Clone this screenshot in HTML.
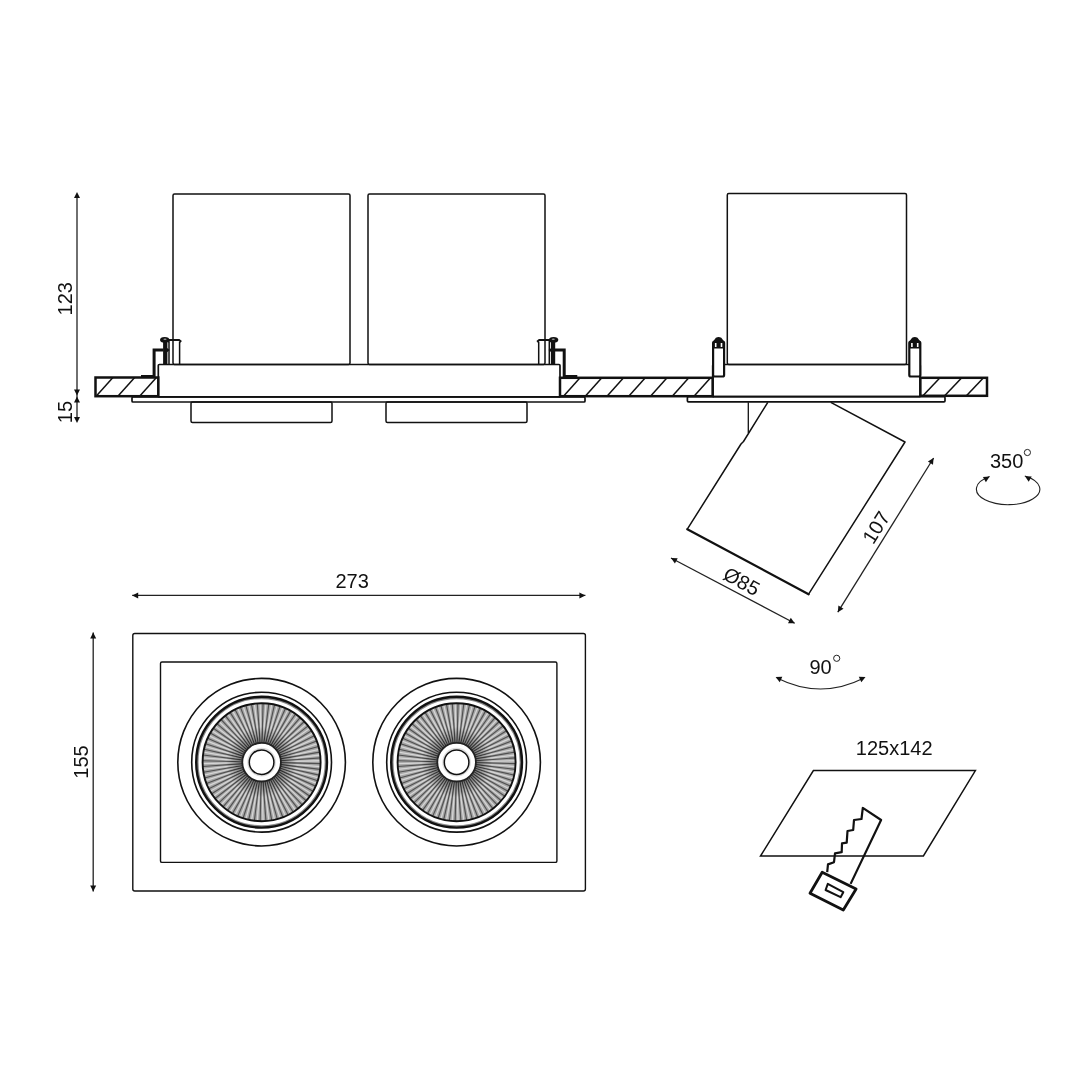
<!DOCTYPE html>
<html><head><meta charset="utf-8"><style>
html,body{margin:0;padding:0;background:#fff;}
svg{display:block;will-change:transform;}
.t{font-family:"Liberation Sans",sans-serif;font-size:20px;fill:#111;}
</style></head><body>
<svg width="1080" height="1080" viewBox="0 0 1080 1080">
<rect width="1080" height="1080" fill="#fff"/>
<defs><radialGradient id="rg" gradientUnits="objectBoundingBox" cx="0.5" cy="0.5" r="0.5"><stop offset="0.33" stop-color="#000" stop-opacity="0.5"/><stop offset="0.6" stop-color="#000" stop-opacity="0.0"/><stop offset="1" stop-color="#000" stop-opacity="0"/></radialGradient></defs>
<line x1="77" y1="194" x2="77" y2="421" stroke="#222" stroke-width="1.3"/>
<path d="M77.00,192.00 L80.00,198.00 L74.00,198.00Z" fill="#111"/>
<path d="M77.00,395.50 L74.00,389.50 L80.00,389.50Z" fill="#111"/>
<path d="M77.00,396.50 L80.00,402.50 L74.00,402.50Z" fill="#111"/>
<path d="M77.00,423.00 L74.00,417.00 L80.00,417.00Z" fill="#111"/>
<text x="0" y="0" transform="translate(72.3,298.8) rotate(-90)" class="t" text-anchor="middle">123</text>
<text x="0" y="0" transform="translate(72.3,412) rotate(-90)" class="t" text-anchor="middle">15</text>
<rect x="173" y="194" width="177" height="170.5" rx="1.5" fill="none" stroke="#111" stroke-width="1.5"/>
<rect x="368" y="194" width="177" height="170.5" rx="1.5" fill="none" stroke="#111" stroke-width="1.5"/>
<rect x="727.3" y="193.5" width="179.20000000000005" height="171.0" rx="1.5" fill="none" stroke="#111" stroke-width="1.5"/>
<rect x="158.3" y="364.5" width="401.7" height="32.39999999999998" rx="1" fill="none" stroke="#111" stroke-width="1.7"/>
<rect x="132" y="396.9" width="453" height="5.100000000000023" rx="1" fill="none" stroke="#111" stroke-width="1.7"/>
<rect x="191" y="402" width="141" height="20.5" rx="1.5" fill="none" stroke="#111" stroke-width="1.5"/>
<rect x="386" y="402" width="141" height="20.5" rx="1.5" fill="none" stroke="#111" stroke-width="1.5"/>
<rect x="712.7" y="364.5" width="207.5999999999999" height="32.19999999999999" rx="1" fill="none" stroke="#111" stroke-width="1.7"/>
<rect x="687.4" y="396.7" width="257.6" height="5.100000000000023" rx="1" fill="none" stroke="#111" stroke-width="1.7"/>
<clipPath id="h1"><rect x="95.5" y="377.5" width="62.80000000000001" height="18.69999999999999"/></clipPath>
<g clip-path="url(#h1)"><line x1="52.60" y1="396.2" x2="69.43" y2="377.5" stroke="#111" stroke-width="1.5"/><line x1="74.35" y1="396.2" x2="91.18" y2="377.5" stroke="#111" stroke-width="1.5"/><line x1="96.10" y1="396.2" x2="112.93" y2="377.5" stroke="#111" stroke-width="1.5"/><line x1="117.85" y1="396.2" x2="134.68" y2="377.5" stroke="#111" stroke-width="1.5"/><line x1="139.60" y1="396.2" x2="156.43" y2="377.5" stroke="#111" stroke-width="1.5"/><line x1="161.35" y1="396.2" x2="178.18" y2="377.5" stroke="#111" stroke-width="1.5"/><line x1="183.10" y1="396.2" x2="199.93" y2="377.5" stroke="#111" stroke-width="1.5"/></g>
<rect x="95.5" y="377.5" width="62.80000000000001" height="18.69999999999999" fill="none" stroke="#111" stroke-width="2.5"/>
<clipPath id="h2"><rect x="560" y="377.8" width="152.70000000000005" height="18.399999999999977"/></clipPath>
<g clip-path="url(#h2)"><line x1="520.00" y1="396.2" x2="536.56" y2="377.8" stroke="#111" stroke-width="1.5"/><line x1="541.75" y1="396.2" x2="558.31" y2="377.8" stroke="#111" stroke-width="1.5"/><line x1="563.50" y1="396.2" x2="580.06" y2="377.8" stroke="#111" stroke-width="1.5"/><line x1="585.25" y1="396.2" x2="601.81" y2="377.8" stroke="#111" stroke-width="1.5"/><line x1="607.00" y1="396.2" x2="623.56" y2="377.8" stroke="#111" stroke-width="1.5"/><line x1="628.75" y1="396.2" x2="645.31" y2="377.8" stroke="#111" stroke-width="1.5"/><line x1="650.50" y1="396.2" x2="667.06" y2="377.8" stroke="#111" stroke-width="1.5"/><line x1="672.25" y1="396.2" x2="688.81" y2="377.8" stroke="#111" stroke-width="1.5"/><line x1="694.00" y1="396.2" x2="710.56" y2="377.8" stroke="#111" stroke-width="1.5"/><line x1="715.75" y1="396.2" x2="732.31" y2="377.8" stroke="#111" stroke-width="1.5"/><line x1="737.50" y1="396.2" x2="754.06" y2="377.8" stroke="#111" stroke-width="1.5"/></g>
<rect x="560" y="377.8" width="152.70000000000005" height="18.399999999999977" fill="none" stroke="#111" stroke-width="2.5"/>
<clipPath id="h3"><rect x="920.3" y="377.8" width="66.70000000000005" height="18.0"/></clipPath>
<g clip-path="url(#h3)"><line x1="879.40" y1="395.8" x2="896.50" y2="377.8" stroke="#111" stroke-width="1.5"/><line x1="901.15" y1="395.8" x2="918.25" y2="377.8" stroke="#111" stroke-width="1.5"/><line x1="922.90" y1="395.8" x2="940.00" y2="377.8" stroke="#111" stroke-width="1.5"/><line x1="944.65" y1="395.8" x2="961.75" y2="377.8" stroke="#111" stroke-width="1.5"/><line x1="966.40" y1="395.8" x2="983.50" y2="377.8" stroke="#111" stroke-width="1.5"/><line x1="988.15" y1="395.8" x2="1005.25" y2="377.8" stroke="#111" stroke-width="1.5"/><line x1="1009.90" y1="395.8" x2="1027.00" y2="377.8" stroke="#111" stroke-width="1.5"/></g>
<rect x="920.3" y="377.8" width="66.70000000000005" height="18.0" fill="none" stroke="#111" stroke-width="2.5"/>
<path d="M141,376.6 L154.1,376.6 L154.1,350 L163.5,350" fill="none" stroke="#111" stroke-width="3"/><path d="M167,348 L169.8,350 L167,352.2Z" fill="#111"/><rect x="163.1" y="341" width="4.3" height="23.5" fill="#111"/><ellipse cx="164.7" cy="339.8" rx="4.7" ry="2.9" fill="#111"/><ellipse cx="165" cy="339.2" rx="1.6" ry="0.8" fill="#999"/><path d="M169,364 L169,342 M179.6,342 L179.6,364" fill="none" stroke="#111" stroke-width="1.5"/><path d="M167.8,342 L169.6,340 L179,340 L181.2,341.8" fill="none" stroke="#111" stroke-width="2.2"/>
<g transform="translate(718.3,0) scale(-1,1)"><path d="M141,376.6 L154.1,376.6 L154.1,350 L163.5,350" fill="none" stroke="#111" stroke-width="3"/><path d="M167,348 L169.8,350 L167,352.2Z" fill="#111"/><rect x="163.1" y="341" width="4.3" height="23.5" fill="#111"/><ellipse cx="164.7" cy="339.8" rx="4.7" ry="2.9" fill="#111"/><ellipse cx="165" cy="339.2" rx="1.6" ry="0.8" fill="#999"/><path d="M169,364 L169,342 M179.6,342 L179.6,364" fill="none" stroke="#111" stroke-width="1.5"/><path d="M167.8,342 L169.6,340 L179,340 L181.2,341.8" fill="none" stroke="#111" stroke-width="2.2"/></g>
<rect x="713.1" y="341.5" width="11.0" height="35" rx="1.5" fill="#fff" stroke="#111" stroke-width="2.2"/>
<path d="M713.1,341.5 L715.9,337.8 Q718.6,336.4 721.3000000000001,337.8 L724.1,341.5 L724.1,348.5 L713.1,348.5Z" fill="#111"/>
<rect x="714.9" y="343" width="1.6" height="4" fill="#fff"/>
<rect x="720.7" y="343" width="1.6" height="4" fill="#fff"/>
<rect x="909.3" y="341.5" width="11.0" height="35" rx="1.5" fill="#fff" stroke="#111" stroke-width="2.2"/>
<path d="M909.3,341.5 L912.0999999999999,337.8 Q914.8,336.4 917.5,337.8 L920.3,341.5 L920.3,348.5 L909.3,348.5Z" fill="#111"/>
<rect x="911.0999999999999" y="343" width="1.6" height="4" fill="#fff"/>
<rect x="916.9" y="343" width="1.6" height="4" fill="#fff"/>
<path d="M767.8,402.3 L743.5,441.5 L741,444 L687.3,529.2 M808.6,594.2 L905,442 L830.8,402.3" fill="none" stroke="#111" stroke-width="1.5" stroke-linejoin="round"/><path d="M687.3,529.2 L808.6,594.2" stroke="#111" stroke-width="2.3" stroke-linecap="round" stroke-linejoin="round"/>
<path d="M748.3,402.3 L748.3,433" fill="none" stroke="#111" stroke-width="1.3"/>
<line x1="671" y1="558" x2="794.7" y2="623.3" stroke="#222" stroke-width="1.3"/>
<path d="M794.70,623.30 L787.99,623.15 L790.79,617.85Z" fill="#111"/>
<path d="M671.00,558.00 L677.71,558.15 L674.91,563.45Z" fill="#111"/>
<line x1="837.8" y1="612.2" x2="933.6" y2="458" stroke="#222" stroke-width="1.3"/>
<path d="M933.60,458.00 L932.98,464.68 L927.89,461.51Z" fill="#111"/>
<path d="M837.80,612.20 L838.42,605.52 L843.51,608.69Z" fill="#111"/>
<text transform="translate(738.3,587.5) rotate(28.4)" class="t" text-anchor="middle">Ø85</text>
<text transform="translate(882,531) rotate(-58.2)" class="t" text-anchor="middle">107</text>
<text x="990" y="467.8" class="t">350</text>
<circle cx="1027.4" cy="452.5" r="3.1" fill="none" stroke="#222" stroke-width="1"/>
<path d="M989.6,476.6 A31.7,15.5 0 1 0 1024.8,476" fill="none" stroke="#222" stroke-width="1.1"/>
<path d="M989.60,476.60 L985.90,482.20 L982.90,477.00Z" fill="#111"/>
<path d="M1025.00,476.20 L1031.70,476.60 L1028.70,481.80Z" fill="#111"/>
<text x="809.5" y="674" class="t">90</text>
<circle cx="836.7" cy="658.3" r="3.1" fill="none" stroke="#222" stroke-width="1"/>
<path d="M777,678 Q820.5,700 864,678" fill="none" stroke="#222" stroke-width="1.1"/>
<path d="M775.60,677.00 L782.31,676.82 L779.77,682.25Z" fill="#111"/>
<path d="M865.50,677.00 L861.33,682.25 L858.79,676.82Z" fill="#111"/>
<line x1="132.2" y1="595.4" x2="585.4" y2="595.4" stroke="#222" stroke-width="1.3"/>
<path d="M585.40,595.40 L579.40,598.40 L579.40,592.40Z" fill="#111"/>
<path d="M132.20,595.40 L138.20,592.40 L138.20,598.40Z" fill="#111"/>
<text x="352.2" y="587.8" class="t" text-anchor="middle">273</text>
<line x1="93.2" y1="632.5" x2="93.2" y2="891.4" stroke="#222" stroke-width="1.3"/>
<path d="M93.20,891.40 L90.20,885.40 L96.20,885.40Z" fill="#111"/>
<path d="M93.20,632.50 L96.20,638.50 L90.20,638.50Z" fill="#111"/>
<text transform="translate(87.6,762) rotate(-90)" class="t" text-anchor="middle">155</text>
<rect x="132.8" y="633.5" width="452.59999999999997" height="257.5" rx="2" fill="none" stroke="#111" stroke-width="1.4"/>
<rect x="160.5" y="662" width="396.4" height="200.39999999999998" rx="1.5" fill="none" stroke="#111" stroke-width="1.4"/>
<circle cx="261.6" cy="762.2" r="83.8" fill="none" stroke="#111" stroke-width="1.6"/>
<circle cx="261.6" cy="762.2" r="69.9" fill="none" stroke="#111" stroke-width="1.6"/>
<circle cx="261.6" cy="762.2" r="64.3" fill="none" stroke="#888" stroke-width="2.5"/>
<circle cx="261.6" cy="762.2" r="65.4" fill="none" stroke="#111" stroke-width="2.4"/>
<circle cx="261.6" cy="762.2" r="39.25" fill="none" stroke="#a6a6a6" stroke-width="39.5"/>
<path d="M281.09,762.68 L320.58,763.65" stroke="#505050" stroke-width="1.15"/><path d="M281.05,763.63 L320.44,766.54" stroke="#d6d6d6" stroke-width="1.3"/><path d="M280.95,764.59 L320.16,769.42" stroke="#505050" stroke-width="1.15"/><path d="M280.81,765.53 L319.73,772.29" stroke="#d6d6d6" stroke-width="1.3"/><path d="M280.63,766.47 L319.17,775.13" stroke="#505050" stroke-width="1.15"/><path d="M280.39,767.40 L318.46,777.94" stroke="#d6d6d6" stroke-width="1.3"/><path d="M280.12,768.32 L317.62,780.71" stroke="#505050" stroke-width="1.15"/><path d="M279.79,769.22 L316.65,783.43" stroke="#d6d6d6" stroke-width="1.3"/><path d="M279.43,770.10 L315.54,786.11" stroke="#505050" stroke-width="1.15"/><path d="M279.02,770.97 L314.30,788.73" stroke="#d6d6d6" stroke-width="1.3"/><path d="M278.57,771.81 L312.94,791.28" stroke="#505050" stroke-width="1.15"/><path d="M278.07,772.63 L311.45,793.76" stroke="#d6d6d6" stroke-width="1.3"/><path d="M277.54,773.43 L309.84,796.17" stroke="#505050" stroke-width="1.15"/><path d="M276.97,774.20 L308.11,798.50" stroke="#d6d6d6" stroke-width="1.3"/><path d="M276.37,774.94 L306.28,800.74" stroke="#505050" stroke-width="1.15"/><path d="M275.72,775.65 L304.33,802.88" stroke="#d6d6d6" stroke-width="1.3"/><path d="M275.05,776.32 L302.28,804.93" stroke="#505050" stroke-width="1.15"/><path d="M274.34,776.97 L300.14,806.88" stroke="#d6d6d6" stroke-width="1.3"/><path d="M273.60,777.57 L297.90,808.71" stroke="#505050" stroke-width="1.15"/><path d="M272.83,778.14 L295.57,810.44" stroke="#d6d6d6" stroke-width="1.3"/><path d="M272.03,778.67 L293.16,812.05" stroke="#505050" stroke-width="1.15"/><path d="M271.21,779.17 L290.68,813.54" stroke="#d6d6d6" stroke-width="1.3"/><path d="M270.37,779.62 L288.13,814.90" stroke="#505050" stroke-width="1.15"/><path d="M269.50,780.03 L285.51,816.14" stroke="#d6d6d6" stroke-width="1.3"/><path d="M268.62,780.39 L282.83,817.25" stroke="#505050" stroke-width="1.15"/><path d="M267.72,780.72 L280.11,818.22" stroke="#d6d6d6" stroke-width="1.3"/><path d="M266.80,780.99 L277.34,819.06" stroke="#505050" stroke-width="1.15"/><path d="M265.87,781.23 L274.53,819.77" stroke="#d6d6d6" stroke-width="1.3"/><path d="M264.93,781.41 L271.69,820.33" stroke="#505050" stroke-width="1.15"/><path d="M263.99,781.55 L268.82,820.76" stroke="#d6d6d6" stroke-width="1.3"/><path d="M263.03,781.65 L265.94,821.04" stroke="#505050" stroke-width="1.15"/><path d="M262.08,781.69 L263.05,821.18" stroke="#d6d6d6" stroke-width="1.3"/><path d="M261.12,781.69 L260.15,821.18" stroke="#505050" stroke-width="1.15"/><path d="M260.17,781.65 L257.26,821.04" stroke="#d6d6d6" stroke-width="1.3"/><path d="M259.21,781.55 L254.38,820.76" stroke="#505050" stroke-width="1.15"/><path d="M258.27,781.41 L251.51,820.33" stroke="#d6d6d6" stroke-width="1.3"/><path d="M257.33,781.23 L248.67,819.77" stroke="#505050" stroke-width="1.15"/><path d="M256.40,780.99 L245.86,819.06" stroke="#d6d6d6" stroke-width="1.3"/><path d="M255.48,780.72 L243.09,818.22" stroke="#505050" stroke-width="1.15"/><path d="M254.58,780.39 L240.37,817.25" stroke="#d6d6d6" stroke-width="1.3"/><path d="M253.70,780.03 L237.69,816.14" stroke="#505050" stroke-width="1.15"/><path d="M252.83,779.62 L235.07,814.90" stroke="#d6d6d6" stroke-width="1.3"/><path d="M251.99,779.17 L232.52,813.54" stroke="#505050" stroke-width="1.15"/><path d="M251.17,778.67 L230.04,812.05" stroke="#d6d6d6" stroke-width="1.3"/><path d="M250.37,778.14 L227.63,810.44" stroke="#505050" stroke-width="1.15"/><path d="M249.60,777.57 L225.30,808.71" stroke="#d6d6d6" stroke-width="1.3"/><path d="M248.86,776.97 L223.06,806.88" stroke="#505050" stroke-width="1.15"/><path d="M248.15,776.32 L220.92,804.93" stroke="#d6d6d6" stroke-width="1.3"/><path d="M247.48,775.65 L218.87,802.88" stroke="#505050" stroke-width="1.15"/><path d="M246.83,774.94 L216.92,800.74" stroke="#d6d6d6" stroke-width="1.3"/><path d="M246.23,774.20 L215.09,798.50" stroke="#505050" stroke-width="1.15"/><path d="M245.66,773.43 L213.36,796.17" stroke="#d6d6d6" stroke-width="1.3"/><path d="M245.13,772.63 L211.75,793.76" stroke="#505050" stroke-width="1.15"/><path d="M244.63,771.81 L210.26,791.28" stroke="#d6d6d6" stroke-width="1.3"/><path d="M244.18,770.97 L208.90,788.73" stroke="#505050" stroke-width="1.15"/><path d="M243.77,770.10 L207.66,786.11" stroke="#d6d6d6" stroke-width="1.3"/><path d="M243.41,769.22 L206.55,783.43" stroke="#505050" stroke-width="1.15"/><path d="M243.08,768.32 L205.58,780.71" stroke="#d6d6d6" stroke-width="1.3"/><path d="M242.81,767.40 L204.74,777.94" stroke="#505050" stroke-width="1.15"/><path d="M242.57,766.47 L204.03,775.13" stroke="#d6d6d6" stroke-width="1.3"/><path d="M242.39,765.53 L203.47,772.29" stroke="#505050" stroke-width="1.15"/><path d="M242.25,764.59 L203.04,769.42" stroke="#d6d6d6" stroke-width="1.3"/><path d="M242.15,763.63 L202.76,766.54" stroke="#505050" stroke-width="1.15"/><path d="M242.11,762.68 L202.62,763.65" stroke="#d6d6d6" stroke-width="1.3"/><path d="M242.11,761.72 L202.62,760.75" stroke="#505050" stroke-width="1.15"/><path d="M242.15,760.77 L202.76,757.86" stroke="#d6d6d6" stroke-width="1.3"/><path d="M242.25,759.81 L203.04,754.98" stroke="#505050" stroke-width="1.15"/><path d="M242.39,758.87 L203.47,752.11" stroke="#d6d6d6" stroke-width="1.3"/><path d="M242.57,757.93 L204.03,749.27" stroke="#505050" stroke-width="1.15"/><path d="M242.81,757.00 L204.74,746.46" stroke="#d6d6d6" stroke-width="1.3"/><path d="M243.08,756.08 L205.58,743.69" stroke="#505050" stroke-width="1.15"/><path d="M243.41,755.18 L206.55,740.97" stroke="#d6d6d6" stroke-width="1.3"/><path d="M243.77,754.30 L207.66,738.29" stroke="#505050" stroke-width="1.15"/><path d="M244.18,753.43 L208.90,735.67" stroke="#d6d6d6" stroke-width="1.3"/><path d="M244.63,752.59 L210.26,733.12" stroke="#505050" stroke-width="1.15"/><path d="M245.13,751.77 L211.75,730.64" stroke="#d6d6d6" stroke-width="1.3"/><path d="M245.66,750.97 L213.36,728.23" stroke="#505050" stroke-width="1.15"/><path d="M246.23,750.20 L215.09,725.90" stroke="#d6d6d6" stroke-width="1.3"/><path d="M246.83,749.46 L216.92,723.66" stroke="#505050" stroke-width="1.15"/><path d="M247.48,748.75 L218.87,721.52" stroke="#d6d6d6" stroke-width="1.3"/><path d="M248.15,748.08 L220.92,719.47" stroke="#505050" stroke-width="1.15"/><path d="M248.86,747.43 L223.06,717.52" stroke="#d6d6d6" stroke-width="1.3"/><path d="M249.60,746.83 L225.30,715.69" stroke="#505050" stroke-width="1.15"/><path d="M250.37,746.26 L227.63,713.96" stroke="#d6d6d6" stroke-width="1.3"/><path d="M251.17,745.73 L230.04,712.35" stroke="#505050" stroke-width="1.15"/><path d="M251.99,745.23 L232.52,710.86" stroke="#d6d6d6" stroke-width="1.3"/><path d="M252.83,744.78 L235.07,709.50" stroke="#505050" stroke-width="1.15"/><path d="M253.70,744.37 L237.69,708.26" stroke="#d6d6d6" stroke-width="1.3"/><path d="M254.58,744.01 L240.37,707.15" stroke="#505050" stroke-width="1.15"/><path d="M255.48,743.68 L243.09,706.18" stroke="#d6d6d6" stroke-width="1.3"/><path d="M256.40,743.41 L245.86,705.34" stroke="#505050" stroke-width="1.15"/><path d="M257.33,743.17 L248.67,704.63" stroke="#d6d6d6" stroke-width="1.3"/><path d="M258.27,742.99 L251.51,704.07" stroke="#505050" stroke-width="1.15"/><path d="M259.21,742.85 L254.38,703.64" stroke="#d6d6d6" stroke-width="1.3"/><path d="M260.17,742.75 L257.26,703.36" stroke="#505050" stroke-width="1.15"/><path d="M261.12,742.71 L260.15,703.22" stroke="#d6d6d6" stroke-width="1.3"/><path d="M262.08,742.71 L263.05,703.22" stroke="#505050" stroke-width="1.15"/><path d="M263.03,742.75 L265.94,703.36" stroke="#d6d6d6" stroke-width="1.3"/><path d="M263.99,742.85 L268.82,703.64" stroke="#505050" stroke-width="1.15"/><path d="M264.93,742.99 L271.69,704.07" stroke="#d6d6d6" stroke-width="1.3"/><path d="M265.87,743.17 L274.53,704.63" stroke="#505050" stroke-width="1.15"/><path d="M266.80,743.41 L277.34,705.34" stroke="#d6d6d6" stroke-width="1.3"/><path d="M267.72,743.68 L280.11,706.18" stroke="#505050" stroke-width="1.15"/><path d="M268.62,744.01 L282.83,707.15" stroke="#d6d6d6" stroke-width="1.3"/><path d="M269.50,744.37 L285.51,708.26" stroke="#505050" stroke-width="1.15"/><path d="M270.37,744.78 L288.13,709.50" stroke="#d6d6d6" stroke-width="1.3"/><path d="M271.21,745.23 L290.68,710.86" stroke="#505050" stroke-width="1.15"/><path d="M272.03,745.73 L293.16,712.35" stroke="#d6d6d6" stroke-width="1.3"/><path d="M272.83,746.26 L295.57,713.96" stroke="#505050" stroke-width="1.15"/><path d="M273.60,746.83 L297.90,715.69" stroke="#d6d6d6" stroke-width="1.3"/><path d="M274.34,747.43 L300.14,717.52" stroke="#505050" stroke-width="1.15"/><path d="M275.05,748.08 L302.28,719.47" stroke="#d6d6d6" stroke-width="1.3"/><path d="M275.72,748.75 L304.33,721.52" stroke="#505050" stroke-width="1.15"/><path d="M276.37,749.46 L306.28,723.66" stroke="#d6d6d6" stroke-width="1.3"/><path d="M276.97,750.20 L308.11,725.90" stroke="#505050" stroke-width="1.15"/><path d="M277.54,750.97 L309.84,728.23" stroke="#d6d6d6" stroke-width="1.3"/><path d="M278.07,751.77 L311.45,730.64" stroke="#505050" stroke-width="1.15"/><path d="M278.57,752.59 L312.94,733.12" stroke="#d6d6d6" stroke-width="1.3"/><path d="M279.02,753.43 L314.30,735.67" stroke="#505050" stroke-width="1.15"/><path d="M279.43,754.30 L315.54,738.29" stroke="#d6d6d6" stroke-width="1.3"/><path d="M279.79,755.18 L316.65,740.97" stroke="#505050" stroke-width="1.15"/><path d="M280.12,756.08 L317.62,743.69" stroke="#d6d6d6" stroke-width="1.3"/><path d="M280.39,757.00 L318.46,746.46" stroke="#505050" stroke-width="1.15"/><path d="M280.63,757.93 L319.17,749.27" stroke="#d6d6d6" stroke-width="1.3"/><path d="M280.81,758.87 L319.73,752.11" stroke="#505050" stroke-width="1.15"/><path d="M280.95,759.81 L320.16,754.98" stroke="#d6d6d6" stroke-width="1.3"/><path d="M281.05,760.77 L320.44,757.86" stroke="#505050" stroke-width="1.15"/><path d="M281.09,761.72 L320.58,760.75" stroke="#d6d6d6" stroke-width="1.3"/>
<circle cx="261.6" cy="762.2" r="59" fill="url(#rg)"/>
<circle cx="261.6" cy="762.2" r="59" fill="none" stroke="#111" stroke-width="1.9"/>
<circle cx="261.6" cy="762.2" r="19.3" fill="#fff" stroke="#222" stroke-width="1.8"/>
<circle cx="261.6" cy="762.2" r="13.6" fill="none" stroke="#ddd" stroke-width="1.5"/>
<circle cx="261.6" cy="762.2" r="12.3" fill="#fff" stroke="#111" stroke-width="1.5"/>
<circle cx="456.6" cy="762.2" r="83.8" fill="none" stroke="#111" stroke-width="1.6"/>
<circle cx="456.6" cy="762.2" r="69.9" fill="none" stroke="#111" stroke-width="1.6"/>
<circle cx="456.6" cy="762.2" r="64.3" fill="none" stroke="#888" stroke-width="2.5"/>
<circle cx="456.6" cy="762.2" r="65.4" fill="none" stroke="#111" stroke-width="2.4"/>
<circle cx="456.6" cy="762.2" r="39.25" fill="none" stroke="#a6a6a6" stroke-width="39.5"/>
<path d="M476.09,762.68 L515.58,763.65" stroke="#505050" stroke-width="1.15"/><path d="M476.05,763.63 L515.44,766.54" stroke="#d6d6d6" stroke-width="1.3"/><path d="M475.95,764.59 L515.16,769.42" stroke="#505050" stroke-width="1.15"/><path d="M475.81,765.53 L514.73,772.29" stroke="#d6d6d6" stroke-width="1.3"/><path d="M475.63,766.47 L514.17,775.13" stroke="#505050" stroke-width="1.15"/><path d="M475.39,767.40 L513.46,777.94" stroke="#d6d6d6" stroke-width="1.3"/><path d="M475.12,768.32 L512.62,780.71" stroke="#505050" stroke-width="1.15"/><path d="M474.79,769.22 L511.65,783.43" stroke="#d6d6d6" stroke-width="1.3"/><path d="M474.43,770.10 L510.54,786.11" stroke="#505050" stroke-width="1.15"/><path d="M474.02,770.97 L509.30,788.73" stroke="#d6d6d6" stroke-width="1.3"/><path d="M473.57,771.81 L507.94,791.28" stroke="#505050" stroke-width="1.15"/><path d="M473.07,772.63 L506.45,793.76" stroke="#d6d6d6" stroke-width="1.3"/><path d="M472.54,773.43 L504.84,796.17" stroke="#505050" stroke-width="1.15"/><path d="M471.97,774.20 L503.11,798.50" stroke="#d6d6d6" stroke-width="1.3"/><path d="M471.37,774.94 L501.28,800.74" stroke="#505050" stroke-width="1.15"/><path d="M470.72,775.65 L499.33,802.88" stroke="#d6d6d6" stroke-width="1.3"/><path d="M470.05,776.32 L497.28,804.93" stroke="#505050" stroke-width="1.15"/><path d="M469.34,776.97 L495.14,806.88" stroke="#d6d6d6" stroke-width="1.3"/><path d="M468.60,777.57 L492.90,808.71" stroke="#505050" stroke-width="1.15"/><path d="M467.83,778.14 L490.57,810.44" stroke="#d6d6d6" stroke-width="1.3"/><path d="M467.03,778.67 L488.16,812.05" stroke="#505050" stroke-width="1.15"/><path d="M466.21,779.17 L485.68,813.54" stroke="#d6d6d6" stroke-width="1.3"/><path d="M465.37,779.62 L483.13,814.90" stroke="#505050" stroke-width="1.15"/><path d="M464.50,780.03 L480.51,816.14" stroke="#d6d6d6" stroke-width="1.3"/><path d="M463.62,780.39 L477.83,817.25" stroke="#505050" stroke-width="1.15"/><path d="M462.72,780.72 L475.11,818.22" stroke="#d6d6d6" stroke-width="1.3"/><path d="M461.80,780.99 L472.34,819.06" stroke="#505050" stroke-width="1.15"/><path d="M460.87,781.23 L469.53,819.77" stroke="#d6d6d6" stroke-width="1.3"/><path d="M459.93,781.41 L466.69,820.33" stroke="#505050" stroke-width="1.15"/><path d="M458.99,781.55 L463.82,820.76" stroke="#d6d6d6" stroke-width="1.3"/><path d="M458.03,781.65 L460.94,821.04" stroke="#505050" stroke-width="1.15"/><path d="M457.08,781.69 L458.05,821.18" stroke="#d6d6d6" stroke-width="1.3"/><path d="M456.12,781.69 L455.15,821.18" stroke="#505050" stroke-width="1.15"/><path d="M455.17,781.65 L452.26,821.04" stroke="#d6d6d6" stroke-width="1.3"/><path d="M454.21,781.55 L449.38,820.76" stroke="#505050" stroke-width="1.15"/><path d="M453.27,781.41 L446.51,820.33" stroke="#d6d6d6" stroke-width="1.3"/><path d="M452.33,781.23 L443.67,819.77" stroke="#505050" stroke-width="1.15"/><path d="M451.40,780.99 L440.86,819.06" stroke="#d6d6d6" stroke-width="1.3"/><path d="M450.48,780.72 L438.09,818.22" stroke="#505050" stroke-width="1.15"/><path d="M449.58,780.39 L435.37,817.25" stroke="#d6d6d6" stroke-width="1.3"/><path d="M448.70,780.03 L432.69,816.14" stroke="#505050" stroke-width="1.15"/><path d="M447.83,779.62 L430.07,814.90" stroke="#d6d6d6" stroke-width="1.3"/><path d="M446.99,779.17 L427.52,813.54" stroke="#505050" stroke-width="1.15"/><path d="M446.17,778.67 L425.04,812.05" stroke="#d6d6d6" stroke-width="1.3"/><path d="M445.37,778.14 L422.63,810.44" stroke="#505050" stroke-width="1.15"/><path d="M444.60,777.57 L420.30,808.71" stroke="#d6d6d6" stroke-width="1.3"/><path d="M443.86,776.97 L418.06,806.88" stroke="#505050" stroke-width="1.15"/><path d="M443.15,776.32 L415.92,804.93" stroke="#d6d6d6" stroke-width="1.3"/><path d="M442.48,775.65 L413.87,802.88" stroke="#505050" stroke-width="1.15"/><path d="M441.83,774.94 L411.92,800.74" stroke="#d6d6d6" stroke-width="1.3"/><path d="M441.23,774.20 L410.09,798.50" stroke="#505050" stroke-width="1.15"/><path d="M440.66,773.43 L408.36,796.17" stroke="#d6d6d6" stroke-width="1.3"/><path d="M440.13,772.63 L406.75,793.76" stroke="#505050" stroke-width="1.15"/><path d="M439.63,771.81 L405.26,791.28" stroke="#d6d6d6" stroke-width="1.3"/><path d="M439.18,770.97 L403.90,788.73" stroke="#505050" stroke-width="1.15"/><path d="M438.77,770.10 L402.66,786.11" stroke="#d6d6d6" stroke-width="1.3"/><path d="M438.41,769.22 L401.55,783.43" stroke="#505050" stroke-width="1.15"/><path d="M438.08,768.32 L400.58,780.71" stroke="#d6d6d6" stroke-width="1.3"/><path d="M437.81,767.40 L399.74,777.94" stroke="#505050" stroke-width="1.15"/><path d="M437.57,766.47 L399.03,775.13" stroke="#d6d6d6" stroke-width="1.3"/><path d="M437.39,765.53 L398.47,772.29" stroke="#505050" stroke-width="1.15"/><path d="M437.25,764.59 L398.04,769.42" stroke="#d6d6d6" stroke-width="1.3"/><path d="M437.15,763.63 L397.76,766.54" stroke="#505050" stroke-width="1.15"/><path d="M437.11,762.68 L397.62,763.65" stroke="#d6d6d6" stroke-width="1.3"/><path d="M437.11,761.72 L397.62,760.75" stroke="#505050" stroke-width="1.15"/><path d="M437.15,760.77 L397.76,757.86" stroke="#d6d6d6" stroke-width="1.3"/><path d="M437.25,759.81 L398.04,754.98" stroke="#505050" stroke-width="1.15"/><path d="M437.39,758.87 L398.47,752.11" stroke="#d6d6d6" stroke-width="1.3"/><path d="M437.57,757.93 L399.03,749.27" stroke="#505050" stroke-width="1.15"/><path d="M437.81,757.00 L399.74,746.46" stroke="#d6d6d6" stroke-width="1.3"/><path d="M438.08,756.08 L400.58,743.69" stroke="#505050" stroke-width="1.15"/><path d="M438.41,755.18 L401.55,740.97" stroke="#d6d6d6" stroke-width="1.3"/><path d="M438.77,754.30 L402.66,738.29" stroke="#505050" stroke-width="1.15"/><path d="M439.18,753.43 L403.90,735.67" stroke="#d6d6d6" stroke-width="1.3"/><path d="M439.63,752.59 L405.26,733.12" stroke="#505050" stroke-width="1.15"/><path d="M440.13,751.77 L406.75,730.64" stroke="#d6d6d6" stroke-width="1.3"/><path d="M440.66,750.97 L408.36,728.23" stroke="#505050" stroke-width="1.15"/><path d="M441.23,750.20 L410.09,725.90" stroke="#d6d6d6" stroke-width="1.3"/><path d="M441.83,749.46 L411.92,723.66" stroke="#505050" stroke-width="1.15"/><path d="M442.48,748.75 L413.87,721.52" stroke="#d6d6d6" stroke-width="1.3"/><path d="M443.15,748.08 L415.92,719.47" stroke="#505050" stroke-width="1.15"/><path d="M443.86,747.43 L418.06,717.52" stroke="#d6d6d6" stroke-width="1.3"/><path d="M444.60,746.83 L420.30,715.69" stroke="#505050" stroke-width="1.15"/><path d="M445.37,746.26 L422.63,713.96" stroke="#d6d6d6" stroke-width="1.3"/><path d="M446.17,745.73 L425.04,712.35" stroke="#505050" stroke-width="1.15"/><path d="M446.99,745.23 L427.52,710.86" stroke="#d6d6d6" stroke-width="1.3"/><path d="M447.83,744.78 L430.07,709.50" stroke="#505050" stroke-width="1.15"/><path d="M448.70,744.37 L432.69,708.26" stroke="#d6d6d6" stroke-width="1.3"/><path d="M449.58,744.01 L435.37,707.15" stroke="#505050" stroke-width="1.15"/><path d="M450.48,743.68 L438.09,706.18" stroke="#d6d6d6" stroke-width="1.3"/><path d="M451.40,743.41 L440.86,705.34" stroke="#505050" stroke-width="1.15"/><path d="M452.33,743.17 L443.67,704.63" stroke="#d6d6d6" stroke-width="1.3"/><path d="M453.27,742.99 L446.51,704.07" stroke="#505050" stroke-width="1.15"/><path d="M454.21,742.85 L449.38,703.64" stroke="#d6d6d6" stroke-width="1.3"/><path d="M455.17,742.75 L452.26,703.36" stroke="#505050" stroke-width="1.15"/><path d="M456.12,742.71 L455.15,703.22" stroke="#d6d6d6" stroke-width="1.3"/><path d="M457.08,742.71 L458.05,703.22" stroke="#505050" stroke-width="1.15"/><path d="M458.03,742.75 L460.94,703.36" stroke="#d6d6d6" stroke-width="1.3"/><path d="M458.99,742.85 L463.82,703.64" stroke="#505050" stroke-width="1.15"/><path d="M459.93,742.99 L466.69,704.07" stroke="#d6d6d6" stroke-width="1.3"/><path d="M460.87,743.17 L469.53,704.63" stroke="#505050" stroke-width="1.15"/><path d="M461.80,743.41 L472.34,705.34" stroke="#d6d6d6" stroke-width="1.3"/><path d="M462.72,743.68 L475.11,706.18" stroke="#505050" stroke-width="1.15"/><path d="M463.62,744.01 L477.83,707.15" stroke="#d6d6d6" stroke-width="1.3"/><path d="M464.50,744.37 L480.51,708.26" stroke="#505050" stroke-width="1.15"/><path d="M465.37,744.78 L483.13,709.50" stroke="#d6d6d6" stroke-width="1.3"/><path d="M466.21,745.23 L485.68,710.86" stroke="#505050" stroke-width="1.15"/><path d="M467.03,745.73 L488.16,712.35" stroke="#d6d6d6" stroke-width="1.3"/><path d="M467.83,746.26 L490.57,713.96" stroke="#505050" stroke-width="1.15"/><path d="M468.60,746.83 L492.90,715.69" stroke="#d6d6d6" stroke-width="1.3"/><path d="M469.34,747.43 L495.14,717.52" stroke="#505050" stroke-width="1.15"/><path d="M470.05,748.08 L497.28,719.47" stroke="#d6d6d6" stroke-width="1.3"/><path d="M470.72,748.75 L499.33,721.52" stroke="#505050" stroke-width="1.15"/><path d="M471.37,749.46 L501.28,723.66" stroke="#d6d6d6" stroke-width="1.3"/><path d="M471.97,750.20 L503.11,725.90" stroke="#505050" stroke-width="1.15"/><path d="M472.54,750.97 L504.84,728.23" stroke="#d6d6d6" stroke-width="1.3"/><path d="M473.07,751.77 L506.45,730.64" stroke="#505050" stroke-width="1.15"/><path d="M473.57,752.59 L507.94,733.12" stroke="#d6d6d6" stroke-width="1.3"/><path d="M474.02,753.43 L509.30,735.67" stroke="#505050" stroke-width="1.15"/><path d="M474.43,754.30 L510.54,738.29" stroke="#d6d6d6" stroke-width="1.3"/><path d="M474.79,755.18 L511.65,740.97" stroke="#505050" stroke-width="1.15"/><path d="M475.12,756.08 L512.62,743.69" stroke="#d6d6d6" stroke-width="1.3"/><path d="M475.39,757.00 L513.46,746.46" stroke="#505050" stroke-width="1.15"/><path d="M475.63,757.93 L514.17,749.27" stroke="#d6d6d6" stroke-width="1.3"/><path d="M475.81,758.87 L514.73,752.11" stroke="#505050" stroke-width="1.15"/><path d="M475.95,759.81 L515.16,754.98" stroke="#d6d6d6" stroke-width="1.3"/><path d="M476.05,760.77 L515.44,757.86" stroke="#505050" stroke-width="1.15"/><path d="M476.09,761.72 L515.58,760.75" stroke="#d6d6d6" stroke-width="1.3"/>
<circle cx="456.6" cy="762.2" r="59" fill="url(#rg)"/>
<circle cx="456.6" cy="762.2" r="59" fill="none" stroke="#111" stroke-width="1.9"/>
<circle cx="456.6" cy="762.2" r="19.3" fill="#fff" stroke="#222" stroke-width="1.8"/>
<circle cx="456.6" cy="762.2" r="13.6" fill="none" stroke="#ddd" stroke-width="1.5"/>
<circle cx="456.6" cy="762.2" r="12.3" fill="#fff" stroke="#111" stroke-width="1.5"/>
<text x="855.8" y="754.9" class="t">125x142</text>
<path d="M813.4,770.6 L975.4,770.6 L923.4,856 L760.5,856Z" fill="none" stroke="#111" stroke-width="1.5"/>
<path d="M822.2,872.2 L856.1,888.9 L843.3,910 L810,893.3Z" fill="#fff" stroke="#111" stroke-width="2.8" stroke-linejoin="round"/>
<path d="M827.8,883.9 L843.3,892.2 L840.6,897.2 L825.6,890Z" fill="none" stroke="#111" stroke-width="2" stroke-linejoin="round"/>
<path d="M850.6,883.9 L881.1,820 L862.8,807.8 L861.5,819 L854,820 L853.2,830 L847.5,831 L846.7,842.6 L842,843.3 L841.7,852.2 L835,853.3 L834,862.2 L828,864.4 L827.2,872.2" fill="none" stroke="#111" stroke-width="2.2" stroke-linejoin="round"/>
</svg></body></html>
